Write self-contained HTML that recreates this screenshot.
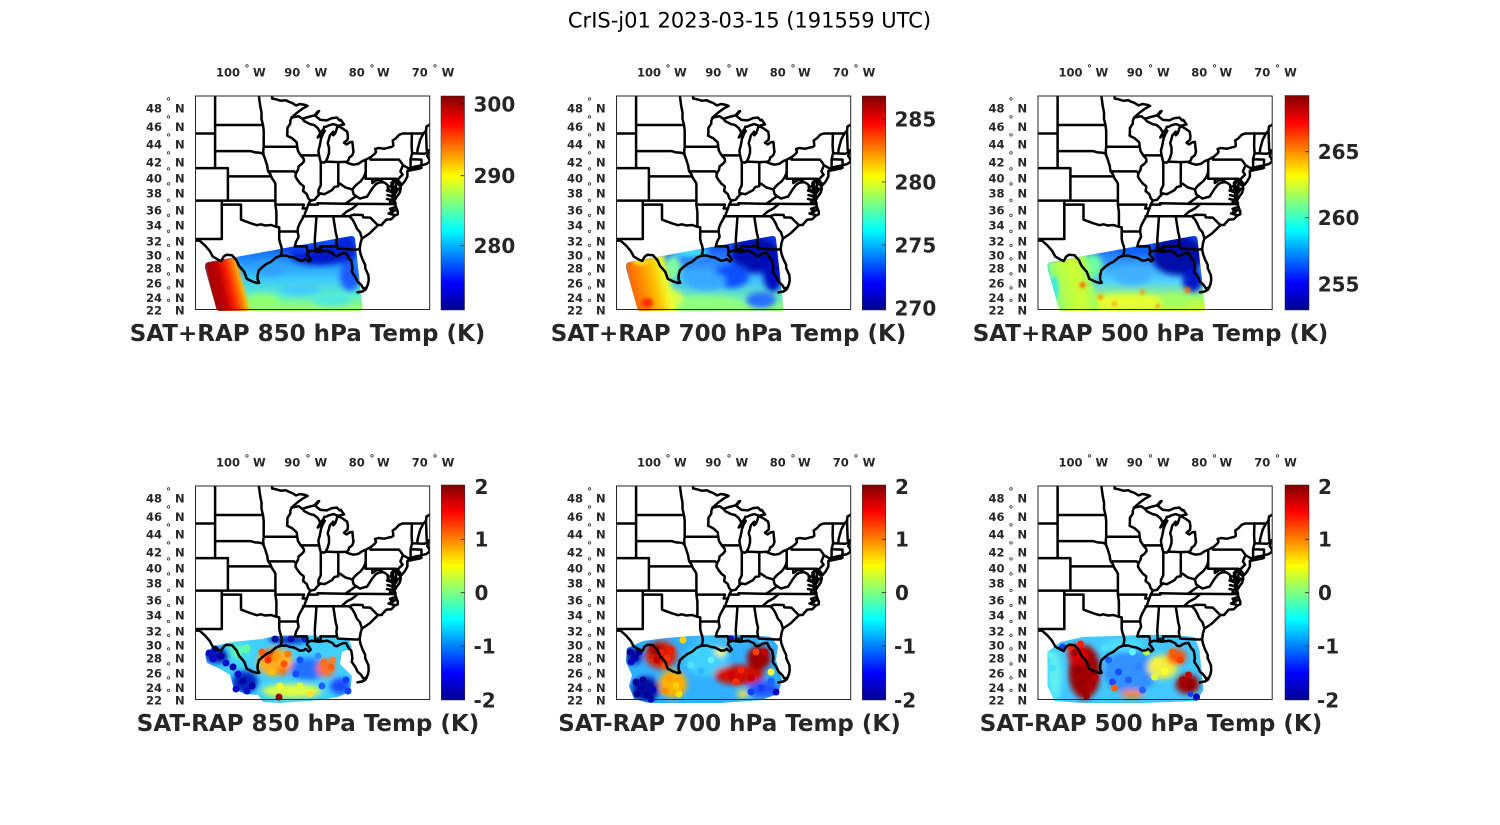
<!DOCTYPE html>
<html><head><meta charset="utf-8"><style>
html,body{margin:0;padding:0;background:#fff;}
svg{display:block;}
text{font-family:"DejaVu Sans","Liberation Sans",sans-serif;}
</style></head><body>
<svg width="1500" height="825" viewBox="0 0 1500 825" xmlns="http://www.w3.org/2000/svg">
<defs>
<linearGradient id="jet" x1="0" y1="0" x2="0" y2="1">
<stop offset="0" stop-color="#800000"/><stop offset="0.125" stop-color="#ff0000"/><stop offset="0.375" stop-color="#ffff00"/><stop offset="0.625" stop-color="#00ffff"/><stop offset="0.875" stop-color="#0000ff"/><stop offset="1" stop-color="#00008f"/>
</linearGradient>
<filter id="bl" x="-30%" y="-40%" width="160%" height="180%"><feGaussianBlur stdDeviation="3"/></filter>
<filter id="bl1" x="-20%" y="-20%" width="140%" height="140%"><feGaussianBlur stdDeviation="1.5"/></filter>
<clipPath id="mc"><rect x="195.5" y="96" width="234.2" height="213.5"/></clipPath>
<clipPath id="sw"><path d="M205,266 Q205,262.5 208.5,262 L351,236 Q354.5,235.5 355,239 L362.5,307.5 Q362.8,311 359.5,311 L219.5,311 Q217,311 216.3,308.5 L205.2,269 Z"/></clipPath>
<clipPath id="d4"><path d="M205,264 L214,256 L232,252 L262,249 L275,246 L306,245 L330,247 L349,249 L352,258 L342,262 L340,274 L352,286 L350,302 L338,307 L320,310 L280,313 L263,312 L258,305 L245,304 L234,299 L230,285 L220,279 L207,273 Z"/></clipPath>
<clipPath id="d5"><path d="M206,258 L222,251 L245,248 L270,246 L300,245 L330,245 L350,247 L357,256 L355,270 L361,290 L357,304 L340,310 L300,313 L250,313 L228,313 L213,309 L208,296 L211,285 L205,272 Z"/></clipPath>
<clipPath id="d6"><path d="M205,262 L218,252 L240,247 L270,246 L300,245 L330,245 L352,247 L357,260 L359,280 L361,300 L354,311 L300,313 L240,313 L212,311 L205,296 Z"/></clipPath>
<linearGradient id="g1" gradientUnits="userSpaceOnUse" x1="0" y1="236" x2="0" y2="311"><stop offset="0" stop-color="#0a48ff"/><stop offset="0.3" stop-color="#1e88ff"/><stop offset="0.55" stop-color="#38c4ff"/><stop offset="0.8" stop-color="#5cf0c8"/><stop offset="1" stop-color="#a8ff58"/></linearGradient>
<linearGradient id="g1r" gradientUnits="userSpaceOnUse" x1="207" y1="287" x2="248" y2="277"><stop offset="0" stop-color="#a00000"/><stop offset="0.35" stop-color="#c00000"/><stop offset="0.55" stop-color="#ff2000"/><stop offset="0.72" stop-color="#ff7800"/><stop offset="0.86" stop-color="#ffd000"/><stop offset="1" stop-color="#c8ff40" stop-opacity="0"/></linearGradient>
<linearGradient id="g2" gradientUnits="userSpaceOnUse" x1="0" y1="236" x2="0" y2="311"><stop offset="0" stop-color="#0634e8"/><stop offset="0.3" stop-color="#2a7cff"/><stop offset="0.6" stop-color="#40c0ff"/><stop offset="0.85" stop-color="#70f0b0"/><stop offset="1" stop-color="#a0ff70"/></linearGradient>
<linearGradient id="g2l" gradientUnits="userSpaceOnUse" x1="207" y1="287" x2="254" y2="276"><stop offset="0" stop-color="#ff5a00"/><stop offset="0.3" stop-color="#ff8c00"/><stop offset="0.55" stop-color="#ffc000"/><stop offset="0.8" stop-color="#f0ff30"/><stop offset="1" stop-color="#b0ff60" stop-opacity="0"/></linearGradient>
<linearGradient id="g3" gradientUnits="userSpaceOnUse" x1="0" y1="236" x2="0" y2="311"><stop offset="0" stop-color="#0a4cff"/><stop offset="0.3" stop-color="#2a8cff"/><stop offset="0.6" stop-color="#50d0ff"/><stop offset="0.85" stop-color="#a8ff58"/><stop offset="1" stop-color="#d8ff30"/></linearGradient>
<linearGradient id="g3l" gradientUnits="userSpaceOnUse" x1="207" y1="287" x2="254" y2="276"><stop offset="0" stop-color="#70ffa0"/><stop offset="0.25" stop-color="#b0ff50"/><stop offset="0.6" stop-color="#d0ff30"/><stop offset="0.85" stop-color="#a0ff60"/><stop offset="1" stop-color="#a0ff60" stop-opacity="0"/></linearGradient>

<g id="map">
<g clip-path="url(#mc)" fill="none" stroke="#000" stroke-width="2.5" stroke-linejoin="round" stroke-linecap="round">
<path d="M215.1,96 V168.1 M195.5,133.5 H215.1 M195.5,168.1 H227.9 V200.6 M195.5,200.6 H275.4 M221.8,200.6 V239 H195.5 M221.8,204.6 H241 V219.6 L246.1,221.6 L250.6,223.2 L257,225.2 L260.8,224.3 L265.3,225.5 L271.1,225 L276.4,226.8 L279.2,227.3 V239 L280,242.7 L281.3,246.4 L281.9,250 L281.3,253.3 L280.4,255.8 M276.4,226.8 V212 L275.4,204.6 V183.8 L274.3,181.5 L272.5,179 L271.1,176.4 H227.9 M279.2,231.5 H297.6 M275.4,204.6 H304 L302.6,208.5 H306.9"/>
<path d="M215.1,151.1 H250.6 L255.1,152.4 L260.2,152.8 L262.8,153.7 L263.7,155.4 L265.3,159.6 L266.3,163 L267.2,165.6 L267.6,168.9 L268.2,171.4 L270.4,174.3 L271.1,176.4 M215.1,125 H263 L261.5,119 V112.5 L260.2,105.9 L258.9,96 M263,125 L263.7,130.8 V146.7 L263.2,151.1 L263.7,155.4 M263.7,146.7 H297.2 M268.2,171.4 H294.1 L295.9,173.2"/>
<path d="M291.6,117.6 L290.3,120.8 V123.6 L287.4,128 V132.6 L287.1,135.7 L292.2,138.3 L296.7,142.3 L297.2,146.7 L298,151.1 L300.8,155.4 L303.7,158.8 L304,161.3 L301.8,163.9 L298.6,166.4 L298,169.8 L296,173.1 L295.4,176.4 L297.3,179.7 L300.5,183.8 L303.7,186.2 V187.8 L303.1,191 L306.9,194.2 L308.2,198.2 L310.4,200.6 L308.2,204.6 L306.9,208.5 L305.5,212 L304.4,215.4 L301.2,220.8 L299.5,224 L298,227.7 L297.6,231.5 L298.6,236.8 L296,242 L294.8,246.4 H306.8 L307.5,250.5 L307.6,252.2"/>
<path d="M303,216.2 H349.2 L353.6,214.7 L362.6,215 L363.3,217.4 L370.3,217.6 L377.7,225 M316.5,216.2 L314.8,239.8 L315.2,251.2 M333.2,216.2 L335.7,232.3 L337,237.5 L336.4,242 L337,246.4 L337.9,248.6 L354.9,249.5 L357.7,249.5 L359.7,248.6 M337,246.4 H320.4 L321,251.5 M349.2,216.2 L352.4,219.3 L354.9,223.9 L356.8,228.5 L360,232.3 L361.9,238.2 M308.2,204.6 H317.8 L317.5,203.2 L345.3,203.8 L395.2,204.1 M358.1,203.8 L352.4,208.5 L346.6,211.6 L341.5,216.2 M345.3,203.8 L349.8,200.6 L354.3,197.4 L356.2,196.2"/>
<path d="M310.4,200.6 L314.6,199.8 L317.2,196.6 L320.4,193.4 L324.2,194.2 L327.4,192.6 L331.9,190.2 L334.4,187 L338.3,186.2 V183.8 H340.2 L345.3,187.4 L352.4,189.4 L354.9,186.2 L357.5,183.8 L360.7,181.3 L363.2,178 L365.2,173.9 L365.7,171.2 M318.5,195 L318.4,190.2 L320.7,185.4 L320.8,181.7 V161.8 M300.8,155.4 H319.1 M325.5,161.6 L338.3,162.1 L346.9,161.8 M338.3,162.1 V183.8 M365.7,159.8 V178.7 M370.5,157.3 V159.6 H398.8 M365.7,178.7 H395.9 V188.8 H400.7 M398.8,159.6 L400.4,161.3 L403,165.2 L400.4,171.4 L402.6,174.7 L400,177.2 L397.5,179.7 M403,165.2 L408,168.1"/>
<path d="M352.4,189.4 L353.6,194.2 L356.2,196.2 L360,198.6 L363.9,197.4 L367.1,196.6 L369.6,192.6 L372.2,188.6 L375.4,184.6 L378.6,182.6 L383.1,182.1 L379.2,179.7 L376.7,180.1 L372.3,183 V178.7 M383.1,182.1 L385,183 L387.6,185 L387.9,188.6 L392.7,192.6"/>
<path d="M411.9,133.5 L411.6,145.6 L412.1,153.2 L410.6,159.2 V167.3 L409.6,168.1 M423.4,133.5 L420.2,139.7 L417.6,149.3 L417.3,153.4 M412.1,153.2 L424.7,153.7 L427.2,152.4 M410.6,159.3 L421.5,159.6 V165.6 M426,130.8 L426.7,150.2 L428.5,150.4"/>
<path d="M428.5,150.4 L427.9,154.3 L427.2,156 L428.5,157.7 L429.8,161.3 L426.6,163.9 L423.4,164.8 L420.2,165.6 L413.8,166.9 L409.6,168.1 L407.4,171.4 L407.4,172.6 L407.4,176.4 L404.8,181.3 L401.6,185 L399.7,182.1 L397.5,179.7 L398.4,184.6 L400.4,186.2 L400.7,188.8 L399.7,192.6 L396.8,196.6 L394.9,199.8 L394.6,196 L394.6,190.2 L392.7,184.6 L393.9,180.1 L391.4,183 L392,189.4 L392.7,193.4 L393,200.6 L394.9,201.8 L395.9,206.9 L397.8,211.6 L397.8,214.3 L394.6,215.8 L391.4,219.2 L386.3,219.6 L382.4,223.9 L381.8,225 L378.3,225 L375.4,227.7 L369.6,233.4 L365.8,236 L361.9,238.6 L360.6,242.7 L359.7,248.6 L360,251.5 L360.7,254.4 L362.6,259.6 L365.2,264.9 L365.2,268.1 L368.4,275.3 L368.7,280.2 L368,284.1 L366.4,287.9 L363.2,288.3 L361.3,285.1 L357.5,281.6 L355.6,277.4 L351.7,271.7 L352.4,268.1 L351.7,263.2 L351.1,260.3 L349.2,258.9 L346,253 L342.8,253.3 L340.8,254.1 L337,256.2 L334.8,255.8 L332.5,253 L327.4,250.8 L322.9,251.2 L321,251.5 L318.4,251.9 L317.8,248.6 L317.2,251.5 L315.2,251.2 L311.4,250.8 L307.6,252.2 L306.9,254.4 L308.8,256.6 L310.8,259.6 L308.8,261.4 L305.6,258.9 L303.7,260.3 L299.9,260.7 L296.7,258.9 L293.5,257.4 L290.3,257 L285.8,255.5 L280.4,255.8 L276.2,257.4 L274.3,258.9 L271.1,261.7 L266.6,263.9 L262.8,266.7 L258.9,270.3 L257.6,275.3 L257.6,279.5 L259.2,282.7 L257,283 L252.5,281.6 L246.8,278.8 L244.2,271.7 L239.1,266 L236.5,260.3 L232,255.2 L226.3,254.8 L223.7,256.6 L221.2,261 L218,259.6 L212.8,256.6 L209.6,250.8 L205.2,245.7 L199.4,240.5 L195.5,240.6"/>
<path d="M366.4,287.9 L365.8,289.3 L362.6,291.4 L357.5,292.4"/>
<path d="M291.6,117.6 L298.6,116.2 L302.4,118.8 L308.2,117 L314.6,115.3 L317.8,111.6 L319.1,111.1 L315.2,115.8 L320.4,119.9 L326.8,120.4 L331.9,118.1 L337,117.6 L339.6,120.4 L340.8,119.9 L342.8,122.7 L344,124.5 L340.8,125 L338.6,125.9 L333.2,124.1 L328.7,125.4 L326.1,126.8 L324.2,126.8 L323.6,129 L320.4,132.6 L317.8,137.5 L319.7,136.1 L322.3,133.5 L324.8,130.8 L322.9,134 L321,138.8 L320.4,142.3 L319.7,145.8 L318.4,150.7 L319.1,155.4 L320.4,160.9 L321,162.1 L324.2,162.6 L325.5,161.6 L327.4,158.3 L329,152.9 L329,147.6 L327.7,143.2 L329,138.8 L329.9,135.3 L333.2,131.7 L333.2,135.3 L335.1,133.5 L336.4,129.9 L337.3,126.8 L338.9,126.5 L342.1,128.1 L347.2,131.7 L347.9,136.1 L347.6,139.7 L344,142.7 L346.6,144.5 L349.8,142.3 L352.4,141.9 L353.3,151.1 L353.6,151.5 L352.4,155 L351.1,156.3 L349.2,157.5 L348.5,160 L346.9,161.8 L346.6,162.6 L350.4,163.9 L353.6,164.7 L358.1,163.9 L362.6,160.9 L365.7,159.8 L368.4,158.3 L370.5,157.3 L374.8,153.7 L376,152 L375.1,148.9 L378.6,148 L384.4,148.7 L390.6,147.1 L391.4,147.1 L393.3,145.8 L393,142.3 L392.7,140.5 L395.9,138.3 L399.1,134.8 L402.6,133.5 L423.4,133.5 L426,130.8 L426.5,126.5 L431,124"/>
<path d="M320.4,132.6 L317.8,128.1 L314,125 L310.1,124.1 L304.4,121.3 L302.4,118.8"/>
<path d="M272.1,96 V98.5 L275.6,99.2 L280.7,100.7 L285.8,100.2 L288.4,101.6 L292.2,103 L296,105.4 L299.9,104 L305,104.9 L307.6,105.9 L303.1,108.3 L297.3,112.5 L291.6,117.6"/>
<path d="M407.4,171 L412,170 L420.2,168.4 L421.5,167.8 L415,168.8 L409.3,169.6 Z"/>
<path d="M392.7,192.6 L387,190.5 M393,196.5 L387.5,195 M393.5,200.3 L387,199 M395.9,207 L390,208.8 L393.5,211.5 L388.5,213.5 L394.5,215 M397.5,180.5 L399,183.5 M392.5,186 L389.5,186.5 M395.5,193 L397.5,190 M392.5,197.5 L395.5,203 M390,202 L394,204 M396.5,210 L391,211"/>
</g>
<rect x="195.5" y="96" width="234.2" height="213.5" fill="none" stroke="#262626" stroke-width="1"/>
</g>
</defs>

<rect x="0" y="0" width="1500" height="825" fill="#fff"/>
<text x="749.5" y="27.5" text-anchor="middle" font-size="21" fill="#000">CrIS-j01 2023-03-15 (191559 UTC)</text>

<!-- ===== Panel 1 ===== -->
<g>
<g clip-path="url(#sw)">
<rect x="200" y="230" width="170" height="85" fill="url(#g1)"/>
<g filter="url(#bl)">
<ellipse cx="320" cy="255" rx="30" ry="10" fill="#0012c8"/>
<ellipse cx="345" cy="250" rx="12" ry="14" fill="#0022d8"/>
<ellipse cx="350" cy="276" rx="10" ry="15" fill="#1a5cff"/>
<ellipse cx="298" cy="248" rx="20" ry="6" fill="#0a3cf0"/>
<ellipse cx="270" cy="268" rx="15" ry="8" fill="#30a0ff"/>
<ellipse cx="300" cy="290" rx="20" ry="5" fill="#40c8ff"/>
<ellipse cx="332" cy="300" rx="20" ry="6" fill="#50e8e0"/>
<ellipse cx="262" cy="302" rx="18" ry="8" fill="#90ff70"/>
</g>
<path d="M204,262 L236,256 L250,312 L214,312 Z" fill="url(#g1r)" filter="url(#bl1)"/>
</g>
</g>
<use href="#map"/>
<g font-weight="bold" fill="#262626" font-size="11.5">
<text x="146" y="112.7">48<tspan x="166" dy="-8.4" font-size="10">°</tspan><tspan x="175" dy="8.4">N</tspan></text>
<text x="146" y="131.1">46<tspan x="166" dy="-8.4" font-size="10">°</tspan><tspan x="175" dy="8.4">N</tspan></text>
<text x="146" y="148.7">44<tspan x="166" dy="-8.4" font-size="10">°</tspan><tspan x="175" dy="8.4">N</tspan></text>
<text x="146" y="166.7">42<tspan x="166" dy="-8.4" font-size="10">°</tspan><tspan x="175" dy="8.4">N</tspan></text>
<text x="146" y="182.7">40<tspan x="166" dy="-8.4" font-size="10">°</tspan><tspan x="175" dy="8.4">N</tspan></text>
<text x="146" y="197.7">38<tspan x="166" dy="-8.4" font-size="10">°</tspan><tspan x="175" dy="8.4">N</tspan></text>
<text x="146" y="214.4">36<tspan x="166" dy="-8.4" font-size="10">°</tspan><tspan x="175" dy="8.4">N</tspan></text>
<text x="146" y="229.4">34<tspan x="166" dy="-8.4" font-size="10">°</tspan><tspan x="175" dy="8.4">N</tspan></text>
<text x="146" y="245.4">32<tspan x="166" dy="-8.4" font-size="10">°</tspan><tspan x="175" dy="8.4">N</tspan></text>
<text x="146" y="259.4">30<tspan x="166" dy="-8.4" font-size="10">°</tspan><tspan x="175" dy="8.4">N</tspan></text>
<text x="146" y="272.7">28<tspan x="166" dy="-8.4" font-size="10">°</tspan><tspan x="175" dy="8.4">N</tspan></text>
<text x="146" y="287.7">26<tspan x="166" dy="-8.4" font-size="10">°</tspan><tspan x="175" dy="8.4">N</tspan></text>
<text x="146" y="302.1">24<tspan x="166" dy="-8.4" font-size="10">°</tspan><tspan x="175" dy="8.4">N</tspan></text>
<text x="146" y="314.4">22<tspan x="166" dy="-8.4" font-size="10">°</tspan><tspan x="175" dy="8.4">N</tspan></text>
<text x="216" y="76.7">100<tspan x="244.5" dy="-5" font-size="10">°</tspan><tspan x="253" dy="5">W</tspan></text>
<text x="284.3" y="76.7">90<tspan x="305.5" dy="-5" font-size="10">°</tspan><tspan x="314.5" dy="5">W</tspan></text>
<text x="348.7" y="76.7">80<tspan x="369.5" dy="-5" font-size="10">°</tspan><tspan x="377" dy="5">W</tspan></text>
<text x="411.7" y="76.7">70<tspan x="432.5" dy="-5" font-size="10">°</tspan><tspan x="441.6" dy="5">W</tspan></text>
</g>
<text x="307.5" y="341" text-anchor="middle" font-size="23" font-weight="bold" fill="#262626">SAT+RAP 850 hPa Temp (K)</text>
<rect x="441" y="96" width="23.5" height="214" fill="url(#jet)" stroke="#262626" stroke-width="0.5"/>
<path d="M460.5,104 H464.5 M460.5,175.7 H464.5 M460.5,245.7 H464.5" stroke="#262626" stroke-width="0.8"/>
<g font-weight="bold" fill="#262626" font-size="20">
<text x="473.5" y="111.3">300</text><text x="473.5" y="183">290</text><text x="473.5" y="253">280</text>
</g>

<!-- ===== Panel 2 ===== -->
<g transform="translate(421,0)">
<g clip-path="url(#sw)">
<rect x="200" y="230" width="170" height="85" fill="url(#g2)"/>
<g filter="url(#bl)">
<ellipse cx="335" cy="255" rx="25" ry="18" fill="#0008b0"/>
<ellipse cx="352" cy="272" rx="10" ry="20" fill="#0010c0"/>
<ellipse cx="310" cy="276" rx="18" ry="12" fill="#0a50ff"/>
<ellipse cx="270" cy="252" rx="18" ry="5" fill="#40e8ff"/>
<ellipse cx="252" cy="268" rx="8" ry="12" fill="#80ffa0"/>
<ellipse cx="282" cy="304" rx="40" ry="8" fill="#90ff80"/>
<ellipse cx="252" cy="298" rx="10" ry="8" fill="#e0ff40"/>
<ellipse cx="285" cy="281" rx="20" ry="9" fill="#38a8ff"/>
<ellipse cx="340" cy="300" rx="15" ry="8" fill="#2870ff"/>
</g>
<path d="M204,262 L244,254 L258,312 L214,312 Z" fill="url(#g2l)" filter="url(#bl1)"/>
<g filter="url(#bl1)">
<ellipse cx="226" cy="303" rx="6" ry="5" fill="#ff3000"/>
<ellipse cx="220" cy="262" rx="8" ry="3" fill="#ffe020"/>
</g>
</g>
<use href="#map"/>
<g font-weight="bold" fill="#262626" font-size="11.5">
<text x="146" y="112.7">48<tspan x="166" dy="-8.4" font-size="10">°</tspan><tspan x="175" dy="8.4">N</tspan></text>
<text x="146" y="131.1">46<tspan x="166" dy="-8.4" font-size="10">°</tspan><tspan x="175" dy="8.4">N</tspan></text>
<text x="146" y="148.7">44<tspan x="166" dy="-8.4" font-size="10">°</tspan><tspan x="175" dy="8.4">N</tspan></text>
<text x="146" y="166.7">42<tspan x="166" dy="-8.4" font-size="10">°</tspan><tspan x="175" dy="8.4">N</tspan></text>
<text x="146" y="182.7">40<tspan x="166" dy="-8.4" font-size="10">°</tspan><tspan x="175" dy="8.4">N</tspan></text>
<text x="146" y="197.7">38<tspan x="166" dy="-8.4" font-size="10">°</tspan><tspan x="175" dy="8.4">N</tspan></text>
<text x="146" y="214.4">36<tspan x="166" dy="-8.4" font-size="10">°</tspan><tspan x="175" dy="8.4">N</tspan></text>
<text x="146" y="229.4">34<tspan x="166" dy="-8.4" font-size="10">°</tspan><tspan x="175" dy="8.4">N</tspan></text>
<text x="146" y="245.4">32<tspan x="166" dy="-8.4" font-size="10">°</tspan><tspan x="175" dy="8.4">N</tspan></text>
<text x="146" y="259.4">30<tspan x="166" dy="-8.4" font-size="10">°</tspan><tspan x="175" dy="8.4">N</tspan></text>
<text x="146" y="272.7">28<tspan x="166" dy="-8.4" font-size="10">°</tspan><tspan x="175" dy="8.4">N</tspan></text>
<text x="146" y="287.7">26<tspan x="166" dy="-8.4" font-size="10">°</tspan><tspan x="175" dy="8.4">N</tspan></text>
<text x="146" y="302.1">24<tspan x="166" dy="-8.4" font-size="10">°</tspan><tspan x="175" dy="8.4">N</tspan></text>
<text x="146" y="314.4">22<tspan x="166" dy="-8.4" font-size="10">°</tspan><tspan x="175" dy="8.4">N</tspan></text>
<text x="216" y="76.7">100<tspan x="244.5" dy="-5" font-size="10">°</tspan><tspan x="253" dy="5">W</tspan></text>
<text x="284.3" y="76.7">90<tspan x="305.5" dy="-5" font-size="10">°</tspan><tspan x="314.5" dy="5">W</tspan></text>
<text x="348.7" y="76.7">80<tspan x="369.5" dy="-5" font-size="10">°</tspan><tspan x="377" dy="5">W</tspan></text>
<text x="411.7" y="76.7">70<tspan x="432.5" dy="-5" font-size="10">°</tspan><tspan x="441.6" dy="5">W</tspan></text>
</g>
<text x="307.5" y="341" text-anchor="middle" font-size="23" font-weight="bold" fill="#262626">SAT+RAP 700 hPa Temp (K)</text>
<rect x="441.3" y="96" width="23.5" height="214" fill="url(#jet)" stroke="#262626" stroke-width="0.5"/>
<path d="M460.8,119 H464.8 M460.8,182 H464.8 M460.8,245 H464.8 M460.8,308 H464.8" stroke="#262626" stroke-width="0.8"/>
<g font-weight="bold" fill="#262626" font-size="20">
<text x="473.5" y="126.3">285</text><text x="473.5" y="189.5">280</text><text x="473.5" y="252.5">275</text><text x="473.5" y="315.3">270</text>
</g>
</g>

<!-- ===== Panel 3 ===== -->
<g transform="translate(842.5,0)">
<g clip-path="url(#sw)">
<rect x="200" y="230" width="170" height="85" fill="url(#g3)"/>
<g filter="url(#bl)">
<ellipse cx="335" cy="255" rx="26" ry="20" fill="#0008a8"/>
<ellipse cx="350" cy="280" rx="10" ry="12" fill="#0018c8"/>
<ellipse cx="292" cy="250" rx="18" ry="6" fill="#1060ff"/>
<ellipse cx="250" cy="266" rx="10" ry="12" fill="#70ffa0"/>
<ellipse cx="285" cy="302" rx="40" ry="8" fill="#e8ff30"/>
<ellipse cx="332" cy="301" rx="15" ry="7" fill="#a0ff60"/>
<ellipse cx="290" cy="276" rx="18" ry="9" fill="#40b0ff"/>
</g>
<path d="M204,262 L244,254 L258,312 L214,312 Z" fill="url(#g3l)" filter="url(#bl1)"/>
<g filter="url(#bl1)">
<ellipse cx="212" cy="288" rx="4" ry="12" fill="#40e8e0"/>
<circle cx="240" cy="285" r="3" fill="#ff6000"/>
<circle cx="258" cy="297" r="2.5" fill="#ff8000"/>
<circle cx="300" cy="292" r="2.5" fill="#ff9000"/>
<circle cx="345" cy="290" r="3" fill="#ff7000"/>
<circle cx="315" cy="306" r="2" fill="#ff8000"/>
<circle cx="272" cy="304" r="2.5" fill="#ffa000"/>
</g>
</g>
<use href="#map"/>
<g font-weight="bold" fill="#262626" font-size="11.5">
<text x="146" y="112.7">48<tspan x="166" dy="-8.4" font-size="10">°</tspan><tspan x="175" dy="8.4">N</tspan></text>
<text x="146" y="131.1">46<tspan x="166" dy="-8.4" font-size="10">°</tspan><tspan x="175" dy="8.4">N</tspan></text>
<text x="146" y="148.7">44<tspan x="166" dy="-8.4" font-size="10">°</tspan><tspan x="175" dy="8.4">N</tspan></text>
<text x="146" y="166.7">42<tspan x="166" dy="-8.4" font-size="10">°</tspan><tspan x="175" dy="8.4">N</tspan></text>
<text x="146" y="182.7">40<tspan x="166" dy="-8.4" font-size="10">°</tspan><tspan x="175" dy="8.4">N</tspan></text>
<text x="146" y="197.7">38<tspan x="166" dy="-8.4" font-size="10">°</tspan><tspan x="175" dy="8.4">N</tspan></text>
<text x="146" y="214.4">36<tspan x="166" dy="-8.4" font-size="10">°</tspan><tspan x="175" dy="8.4">N</tspan></text>
<text x="146" y="229.4">34<tspan x="166" dy="-8.4" font-size="10">°</tspan><tspan x="175" dy="8.4">N</tspan></text>
<text x="146" y="245.4">32<tspan x="166" dy="-8.4" font-size="10">°</tspan><tspan x="175" dy="8.4">N</tspan></text>
<text x="146" y="259.4">30<tspan x="166" dy="-8.4" font-size="10">°</tspan><tspan x="175" dy="8.4">N</tspan></text>
<text x="146" y="272.7">28<tspan x="166" dy="-8.4" font-size="10">°</tspan><tspan x="175" dy="8.4">N</tspan></text>
<text x="146" y="287.7">26<tspan x="166" dy="-8.4" font-size="10">°</tspan><tspan x="175" dy="8.4">N</tspan></text>
<text x="146" y="302.1">24<tspan x="166" dy="-8.4" font-size="10">°</tspan><tspan x="175" dy="8.4">N</tspan></text>
<text x="146" y="314.4">22<tspan x="166" dy="-8.4" font-size="10">°</tspan><tspan x="175" dy="8.4">N</tspan></text>
<text x="216" y="76.7">100<tspan x="244.5" dy="-5" font-size="10">°</tspan><tspan x="253" dy="5">W</tspan></text>
<text x="284.3" y="76.7">90<tspan x="305.5" dy="-5" font-size="10">°</tspan><tspan x="314.5" dy="5">W</tspan></text>
<text x="348.7" y="76.7">80<tspan x="369.5" dy="-5" font-size="10">°</tspan><tspan x="377" dy="5">W</tspan></text>
<text x="411.7" y="76.7">70<tspan x="432.5" dy="-5" font-size="10">°</tspan><tspan x="441.6" dy="5">W</tspan></text>
</g>
<text x="308" y="341" text-anchor="middle" font-size="23" font-weight="bold" fill="#262626">SAT+RAP 500 hPa Temp (K)</text>
<rect x="442.5" y="95.5" width="24" height="214.5" fill="url(#jet)" stroke="#262626" stroke-width="0.5"/>
<path d="M462.5,151.7 H466.5 M462.5,217.7 H466.5 M462.5,284 H466.5" stroke="#262626" stroke-width="0.8"/>
<g font-weight="bold" fill="#262626" font-size="20">
<text x="475.2" y="159">265</text><text x="475.2" y="225">260</text><text x="475.2" y="291.3">255</text>
</g>
</g>

<!-- ===== Panel 4 ===== -->
<g transform="translate(0,390)">
<g clip-path="url(#d4)">
<rect x="200" y="240" width="160" height="75" fill="#40d0ff"/>
<g filter="url(#bl)">
<ellipse cx="275" cy="272" rx="18" ry="14" fill="#ffb020"/>
<ellipse cx="270" cy="265" rx="8" ry="5" fill="#ff4000"/>
<ellipse cx="283" cy="281" rx="6" ry="4" fill="#ff6000"/>
<ellipse cx="292" cy="301" rx="30" ry="7" fill="#e0ff40"/>
<ellipse cx="308" cy="279" rx="18" ry="11" fill="#2070ff"/>
<ellipse cx="326" cy="278" rx="9" ry="9" fill="#ff7020"/>
<ellipse cx="288" cy="250" rx="20" ry="4" fill="#0020c0"/>
<ellipse cx="217" cy="266" rx="12" ry="7" fill="#0010b0"/>
<ellipse cx="245" cy="292" rx="13" ry="11" fill="#0020c0"/>
<ellipse cx="240" cy="262" rx="9" ry="7" fill="#60ffb0"/>
<ellipse cx="340" cy="296" rx="10" ry="8" fill="#1848ff"/>
</g>
</g>
<g>
<circle cx="209" cy="263" r="3.5" fill="#0a0ac8"/><circle cx="215" cy="259" r="3.5" fill="#0000a0"/><circle cx="213" cy="269" r="3.5" fill="#0a0ac8"/><circle cx="221" cy="266" r="3.5" fill="#00009a"/><circle cx="226" cy="273" r="3.5" fill="#0a10d0"/><circle cx="233" cy="277" r="3.5" fill="#0000b0"/><circle cx="238" cy="284" r="3.5" fill="#0a0ac8"/><circle cx="243" cy="291" r="3.5" fill="#0000a0"/><circle cx="236" cy="299" r="3.5" fill="#0a0ac8"/><circle cx="247" cy="301" r="3.5" fill="#0010c0"/><circle cx="252" cy="296" r="3.5" fill="#0000a8"/>
<circle cx="232" cy="256" r="3.5" fill="#50f0c0"/><circle cx="247" cy="258" r="3.5" fill="#60ffa0"/><circle cx="244" cy="266" r="3.5" fill="#40e0e0"/>
<circle cx="262" cy="262" r="3.5" fill="#ff6000"/><circle cx="268" cy="270" r="3.5" fill="#ff3000"/><circle cx="276" cy="266" r="3.5" fill="#ffa000"/><circle cx="284" cy="274" r="3.5" fill="#ff5000"/><circle cx="272" cy="282" r="3.5" fill="#ffc000"/><circle cx="288" cy="264" r="3.5" fill="#ff8000"/>
<circle cx="280" cy="296" r="3.5" fill="#f0ff30"/><circle cx="300" cy="296" r="3.5" fill="#e0ff40"/><circle cx="310" cy="304" r="3.5" fill="#ffe030"/>
<circle cx="300" cy="270" r="3.5" fill="#1050ff"/><circle cx="318" cy="266" r="3.5" fill="#3090ff"/><circle cx="296" cy="284" r="3.5" fill="#1050ff"/><circle cx="346" cy="290" r="3.5" fill="#1040ff"/><circle cx="322" cy="296" r="3.5" fill="#2060ff"/><circle cx="348" cy="301" r="3.5" fill="#1040ff"/>
<circle cx="324" cy="272" r="3.5" fill="#ff7020"/><circle cx="331" cy="277" r="3.5" fill="#ff6010"/><circle cx="333" cy="270" r="3.5" fill="#ff8030"/>
<circle cx="275" cy="249" r="3.5" fill="#0010a0"/><circle cx="291" cy="249" r="3.5" fill="#0010b0"/><circle cx="305" cy="249" r="3.5" fill="#0020c0"/>
<circle cx="279" cy="307" r="3.5" fill="#900000"/>
</g>
<use href="#map"/>
<g font-weight="bold" fill="#262626" font-size="11.5">
<text x="146" y="112.7">48<tspan x="166" dy="-8.4" font-size="10">°</tspan><tspan x="175" dy="8.4">N</tspan></text>
<text x="146" y="131.1">46<tspan x="166" dy="-8.4" font-size="10">°</tspan><tspan x="175" dy="8.4">N</tspan></text>
<text x="146" y="148.7">44<tspan x="166" dy="-8.4" font-size="10">°</tspan><tspan x="175" dy="8.4">N</tspan></text>
<text x="146" y="166.7">42<tspan x="166" dy="-8.4" font-size="10">°</tspan><tspan x="175" dy="8.4">N</tspan></text>
<text x="146" y="182.7">40<tspan x="166" dy="-8.4" font-size="10">°</tspan><tspan x="175" dy="8.4">N</tspan></text>
<text x="146" y="197.7">38<tspan x="166" dy="-8.4" font-size="10">°</tspan><tspan x="175" dy="8.4">N</tspan></text>
<text x="146" y="214.4">36<tspan x="166" dy="-8.4" font-size="10">°</tspan><tspan x="175" dy="8.4">N</tspan></text>
<text x="146" y="229.4">34<tspan x="166" dy="-8.4" font-size="10">°</tspan><tspan x="175" dy="8.4">N</tspan></text>
<text x="146" y="245.4">32<tspan x="166" dy="-8.4" font-size="10">°</tspan><tspan x="175" dy="8.4">N</tspan></text>
<text x="146" y="259.4">30<tspan x="166" dy="-8.4" font-size="10">°</tspan><tspan x="175" dy="8.4">N</tspan></text>
<text x="146" y="272.7">28<tspan x="166" dy="-8.4" font-size="10">°</tspan><tspan x="175" dy="8.4">N</tspan></text>
<text x="146" y="287.7">26<tspan x="166" dy="-8.4" font-size="10">°</tspan><tspan x="175" dy="8.4">N</tspan></text>
<text x="146" y="302.1">24<tspan x="166" dy="-8.4" font-size="10">°</tspan><tspan x="175" dy="8.4">N</tspan></text>
<text x="146" y="314.4">22<tspan x="166" dy="-8.4" font-size="10">°</tspan><tspan x="175" dy="8.4">N</tspan></text>
<text x="216" y="76.7">100<tspan x="244.5" dy="-5" font-size="10">°</tspan><tspan x="253" dy="5">W</tspan></text>
<text x="284.3" y="76.7">90<tspan x="305.5" dy="-5" font-size="10">°</tspan><tspan x="314.5" dy="5">W</tspan></text>
<text x="348.7" y="76.7">80<tspan x="369.5" dy="-5" font-size="10">°</tspan><tspan x="377" dy="5">W</tspan></text>
<text x="411.7" y="76.7">70<tspan x="432.5" dy="-5" font-size="10">°</tspan><tspan x="441.6" dy="5">W</tspan></text>
</g>
<text x="308" y="341" text-anchor="middle" font-size="23" font-weight="bold" fill="#262626">SAT-RAP 850 hPa Temp (K)</text>
<rect x="441.3" y="95" width="23.5" height="215" fill="url(#jet)" stroke="#262626" stroke-width="0.5"/>
<path d="M460.8,149.3 H464.8 M460.8,202.7 H464.8 M460.8,256 H464.8" stroke="#262626" stroke-width="0.8"/>
<g font-weight="bold" fill="#262626" font-size="20">
<text x="474.5" y="104">2</text><text x="474.5" y="156.6">1</text><text x="474.5" y="210">0</text><text x="473.5" y="263.3">-1</text><text x="473.5" y="317.3">-2</text>
</g>
</g>

<!-- ===== Panel 5 ===== -->
<g transform="translate(421,390)">
<g clip-path="url(#d5)">
<rect x="200" y="240" width="170" height="75" fill="#30b0ff"/>
<g filter="url(#bl)">
<ellipse cx="213" cy="266" rx="8" ry="8" fill="#0010a0"/>
<ellipse cx="225" cy="299" rx="14" ry="12" fill="#0008a0"/>
<ellipse cx="240" cy="265" rx="16" ry="14" fill="#e02000"/>
<ellipse cx="235" cy="260" rx="8" ry="6" fill="#900000"/>
<ellipse cx="252" cy="294" rx="14" ry="14" fill="#ffb000"/>
<ellipse cx="285" cy="270" rx="22" ry="16" fill="#40d0ff"/>
<ellipse cx="318" cy="285" rx="25" ry="10" fill="#d01000"/>
<ellipse cx="338" cy="268" rx="12" ry="12" fill="#a00000"/>
<ellipse cx="342" cy="299" rx="15" ry="8" fill="#2050ff"/>
<ellipse cx="300" cy="262" rx="6" ry="4" fill="#ffff40"/>
<ellipse cx="322" cy="304" rx="6" ry="4" fill="#ffe040"/>
<ellipse cx="300" cy="250" rx="30" ry="4" fill="#40c0ff"/>
</g>
</g>
<g>
<circle cx="209" cy="262" r="3.5" fill="#000098"/><circle cx="214" cy="268" r="3.5" fill="#0000b0"/><circle cx="218" cy="262" r="3.5" fill="#000098"/><circle cx="210" cy="272" r="3.5" fill="#0000c0"/><circle cx="215" cy="292" r="3.5" fill="#000098"/><circle cx="220" cy="298" r="3.5" fill="#0000a8"/><circle cx="226" cy="305" r="3.5" fill="#000098"/><circle cx="232" cy="300" r="3.5" fill="#0008b0"/><circle cx="222" cy="290" r="3.5" fill="#000098"/><circle cx="230" cy="309" r="3.5" fill="#0000a0"/><circle cx="216" cy="304" r="3.5" fill="#000090"/>
<circle cx="232" cy="258" r="3.5" fill="#c00000"/><circle cx="240" cy="262" r="3.5" fill="#e82000"/><circle cx="236" cy="270" r="3.5" fill="#c00000"/><circle cx="246" cy="268" r="3.5" fill="#ff3000"/><circle cx="250" cy="260" r="3.5" fill="#e82000"/><circle cx="244" cy="276" r="3.5" fill="#ff5000"/>
<circle cx="248" cy="288" r="3.5" fill="#ffa000"/><circle cx="255" cy="296" r="3.5" fill="#ffd000"/><circle cx="244" cy="301" r="3.5" fill="#ff9000"/><circle cx="258" cy="304" r="3.5" fill="#ffe000"/>
<circle cx="275" cy="262" r="3.5" fill="#40d8ff"/><circle cx="290" cy="270" r="3.5" fill="#60f0ff"/><circle cx="280" cy="281" r="3.5" fill="#30b8ff"/><circle cx="270" cy="275" r="3.5" fill="#50e0ff"/>
<circle cx="310" cy="285" r="3.5" fill="#d00000"/><circle cx="320" cy="280" r="3.5" fill="#ff2000"/><circle cx="330" cy="288" r="3.5" fill="#c00000"/><circle cx="315" cy="292" r="3.5" fill="#ff3000"/><circle cx="338" cy="270" r="3.5" fill="#a00000"/><circle cx="344" cy="262" r="3.5" fill="#c00000"/><circle cx="335" cy="262" r="3.5" fill="#ff4000"/>
<circle cx="340" cy="298" r="3.5" fill="#1040ff"/><circle cx="350" cy="291" r="3.5" fill="#2060ff"/><circle cx="330" cy="302" r="3.5" fill="#1040ff"/>
<circle cx="350" cy="282" r="3.5" fill="#ffff40"/><circle cx="355" cy="302" r="3.5" fill="#0000c0"/>
<circle cx="262" cy="250" r="3.5" fill="#ffd000"/><circle cx="310" cy="249" r="3.5" fill="#0010c0"/><circle cx="340" cy="250" r="3.5" fill="#40c0ff"/>
</g>
<use href="#map"/>
<g font-weight="bold" fill="#262626" font-size="11.5">
<text x="146" y="112.7">48<tspan x="166" dy="-8.4" font-size="10">°</tspan><tspan x="175" dy="8.4">N</tspan></text>
<text x="146" y="131.1">46<tspan x="166" dy="-8.4" font-size="10">°</tspan><tspan x="175" dy="8.4">N</tspan></text>
<text x="146" y="148.7">44<tspan x="166" dy="-8.4" font-size="10">°</tspan><tspan x="175" dy="8.4">N</tspan></text>
<text x="146" y="166.7">42<tspan x="166" dy="-8.4" font-size="10">°</tspan><tspan x="175" dy="8.4">N</tspan></text>
<text x="146" y="182.7">40<tspan x="166" dy="-8.4" font-size="10">°</tspan><tspan x="175" dy="8.4">N</tspan></text>
<text x="146" y="197.7">38<tspan x="166" dy="-8.4" font-size="10">°</tspan><tspan x="175" dy="8.4">N</tspan></text>
<text x="146" y="214.4">36<tspan x="166" dy="-8.4" font-size="10">°</tspan><tspan x="175" dy="8.4">N</tspan></text>
<text x="146" y="229.4">34<tspan x="166" dy="-8.4" font-size="10">°</tspan><tspan x="175" dy="8.4">N</tspan></text>
<text x="146" y="245.4">32<tspan x="166" dy="-8.4" font-size="10">°</tspan><tspan x="175" dy="8.4">N</tspan></text>
<text x="146" y="259.4">30<tspan x="166" dy="-8.4" font-size="10">°</tspan><tspan x="175" dy="8.4">N</tspan></text>
<text x="146" y="272.7">28<tspan x="166" dy="-8.4" font-size="10">°</tspan><tspan x="175" dy="8.4">N</tspan></text>
<text x="146" y="287.7">26<tspan x="166" dy="-8.4" font-size="10">°</tspan><tspan x="175" dy="8.4">N</tspan></text>
<text x="146" y="302.1">24<tspan x="166" dy="-8.4" font-size="10">°</tspan><tspan x="175" dy="8.4">N</tspan></text>
<text x="146" y="314.4">22<tspan x="166" dy="-8.4" font-size="10">°</tspan><tspan x="175" dy="8.4">N</tspan></text>
<text x="216" y="76.7">100<tspan x="244.5" dy="-5" font-size="10">°</tspan><tspan x="253" dy="5">W</tspan></text>
<text x="284.3" y="76.7">90<tspan x="305.5" dy="-5" font-size="10">°</tspan><tspan x="314.5" dy="5">W</tspan></text>
<text x="348.7" y="76.7">80<tspan x="369.5" dy="-5" font-size="10">°</tspan><tspan x="377" dy="5">W</tspan></text>
<text x="411.7" y="76.7">70<tspan x="432.5" dy="-5" font-size="10">°</tspan><tspan x="441.6" dy="5">W</tspan></text>
</g>
<text x="308.5" y="341" text-anchor="middle" font-size="23" font-weight="bold" fill="#262626">SAT-RAP 700 hPa Temp (K)</text>
<rect x="441.3" y="95" width="23.5" height="215" fill="url(#jet)" stroke="#262626" stroke-width="0.5"/>
<path d="M460.8,149.3 H464.8 M460.8,202.7 H464.8 M460.8,256 H464.8" stroke="#262626" stroke-width="0.8"/>
<g font-weight="bold" fill="#262626" font-size="20">
<text x="474" y="104">2</text><text x="474" y="156.6">1</text><text x="474" y="210">0</text><text x="473" y="263.3">-1</text><text x="473" y="317.3">-2</text>
</g>
</g>

<!-- ===== Panel 6 ===== -->
<g transform="translate(842.5,390)">
<g clip-path="url(#d6)">
<rect x="200" y="240" width="170" height="75" fill="#40c8ff"/>
<g filter="url(#bl)">
<ellipse cx="212" cy="285" rx="7" ry="25" fill="#60f0f0"/>
<ellipse cx="242" cy="282" rx="16" ry="27" fill="#a00000"/>
<ellipse cx="235" cy="264" rx="10" ry="10" fill="#e00000"/>
<ellipse cx="288" cy="282" rx="26" ry="22" fill="#3090ff"/>
<ellipse cx="320" cy="277" rx="15" ry="12" fill="#f0f040"/>
<ellipse cx="334" cy="267" rx="10" ry="8" fill="#ff5000"/>
<ellipse cx="345" cy="294" rx="12" ry="10" fill="#a00000"/>
<ellipse cx="290" cy="304" rx="12" ry="4" fill="#ff8000"/>
<ellipse cx="280" cy="256" rx="20" ry="6" fill="#50e0ff"/>
</g>
</g>
<g>
<circle cx="208" cy="265" r="3.5" fill="#60f0f0"/><circle cx="210" cy="278" r="3.5" fill="#40e0ff"/><circle cx="212" cy="292" r="3.5" fill="#60f0f0"/><circle cx="214" cy="304" r="3.5" fill="#50e8ff"/><circle cx="220" cy="257" r="3.5" fill="#1040ff"/>
<circle cx="232" cy="263" r="3.5" fill="#a00000"/><circle cx="240" cy="270" r="3.5" fill="#c00000"/><circle cx="246" cy="280" r="3.5" fill="#a00000"/><circle cx="238" cy="292" r="3.5" fill="#900000"/><circle cx="248" cy="296" r="3.5" fill="#b00000"/><circle cx="244" cy="306" r="3.5" fill="#a00000"/><circle cx="252" cy="288" r="3.5" fill="#c00000"/><circle cx="236" cy="280" r="3.5" fill="#900000"/>
<circle cx="228" cy="257" r="3.5" fill="#ff2000"/><circle cx="238" cy="254" r="3.5" fill="#ff2000"/>
<circle cx="266" cy="270" r="3.5" fill="#2060ff"/><circle cx="276" cy="282" r="3.5" fill="#1050ff"/><circle cx="286" cy="290" r="3.5" fill="#2060ff"/><circle cx="296" cy="276" r="3.5" fill="#3080ff"/><circle cx="270" cy="292" r="3.5" fill="#1848ff"/><circle cx="300" cy="300" r="3.5" fill="#2060ff"/>
<circle cx="262" cy="258" r="3.5" fill="#50e0ff"/><circle cx="290" cy="262" r="3.5" fill="#60f0ff"/>
<circle cx="314" cy="272" r="3.5" fill="#f8f040"/><circle cx="322" cy="281" r="3.5" fill="#ffff30"/><circle cx="312" cy="287" r="3.5" fill="#e0ff40"/><circle cx="304" cy="262" r="3.5" fill="#c0ff50"/>
<circle cx="330" cy="262" r="3.5" fill="#ff6000"/><circle cx="338" cy="270" r="3.5" fill="#ff4000"/><circle cx="272" cy="298" r="3.5" fill="#ff6000"/>
<circle cx="340" cy="290" r="3.5" fill="#a00000"/><circle cx="348" cy="296" r="3.5" fill="#900000"/><circle cx="346" cy="285" r="3.5" fill="#c00000"/>
<circle cx="354" cy="307" r="3.5" fill="#0000c0"/><circle cx="348" cy="304" r="3" fill="#1040ff"/>
</g>
<use href="#map"/>
<g font-weight="bold" fill="#262626" font-size="11.5">
<text x="146" y="112.7">48<tspan x="166" dy="-8.4" font-size="10">°</tspan><tspan x="175" dy="8.4">N</tspan></text>
<text x="146" y="131.1">46<tspan x="166" dy="-8.4" font-size="10">°</tspan><tspan x="175" dy="8.4">N</tspan></text>
<text x="146" y="148.7">44<tspan x="166" dy="-8.4" font-size="10">°</tspan><tspan x="175" dy="8.4">N</tspan></text>
<text x="146" y="166.7">42<tspan x="166" dy="-8.4" font-size="10">°</tspan><tspan x="175" dy="8.4">N</tspan></text>
<text x="146" y="182.7">40<tspan x="166" dy="-8.4" font-size="10">°</tspan><tspan x="175" dy="8.4">N</tspan></text>
<text x="146" y="197.7">38<tspan x="166" dy="-8.4" font-size="10">°</tspan><tspan x="175" dy="8.4">N</tspan></text>
<text x="146" y="214.4">36<tspan x="166" dy="-8.4" font-size="10">°</tspan><tspan x="175" dy="8.4">N</tspan></text>
<text x="146" y="229.4">34<tspan x="166" dy="-8.4" font-size="10">°</tspan><tspan x="175" dy="8.4">N</tspan></text>
<text x="146" y="245.4">32<tspan x="166" dy="-8.4" font-size="10">°</tspan><tspan x="175" dy="8.4">N</tspan></text>
<text x="146" y="259.4">30<tspan x="166" dy="-8.4" font-size="10">°</tspan><tspan x="175" dy="8.4">N</tspan></text>
<text x="146" y="272.7">28<tspan x="166" dy="-8.4" font-size="10">°</tspan><tspan x="175" dy="8.4">N</tspan></text>
<text x="146" y="287.7">26<tspan x="166" dy="-8.4" font-size="10">°</tspan><tspan x="175" dy="8.4">N</tspan></text>
<text x="146" y="302.1">24<tspan x="166" dy="-8.4" font-size="10">°</tspan><tspan x="175" dy="8.4">N</tspan></text>
<text x="146" y="314.4">22<tspan x="166" dy="-8.4" font-size="10">°</tspan><tspan x="175" dy="8.4">N</tspan></text>
<text x="216" y="76.7">100<tspan x="244.5" dy="-5" font-size="10">°</tspan><tspan x="253" dy="5">W</tspan></text>
<text x="284.3" y="76.7">90<tspan x="305.5" dy="-5" font-size="10">°</tspan><tspan x="314.5" dy="5">W</tspan></text>
<text x="348.7" y="76.7">80<tspan x="369.5" dy="-5" font-size="10">°</tspan><tspan x="377" dy="5">W</tspan></text>
<text x="411.7" y="76.7">70<tspan x="432.5" dy="-5" font-size="10">°</tspan><tspan x="441.6" dy="5">W</tspan></text>
</g>
<text x="308.5" y="341" text-anchor="middle" font-size="23" font-weight="bold" fill="#262626">SAT-RAP 500 hPa Temp (K)</text>
<rect x="442.5" y="95" width="24" height="215" fill="url(#jet)" stroke="#262626" stroke-width="0.5"/>
<path d="M462.5,149.3 H466.5 M462.5,202.7 H466.5 M462.5,256 H466.5" stroke="#262626" stroke-width="0.8"/>
<g font-weight="bold" fill="#262626" font-size="20">
<text x="475.5" y="104">2</text><text x="475.5" y="156.6">1</text><text x="475.5" y="210">0</text><text x="474.5" y="263.3">-1</text><text x="474.5" y="317.3">-2</text>
</g>
</g>
</svg>
</body></html>
